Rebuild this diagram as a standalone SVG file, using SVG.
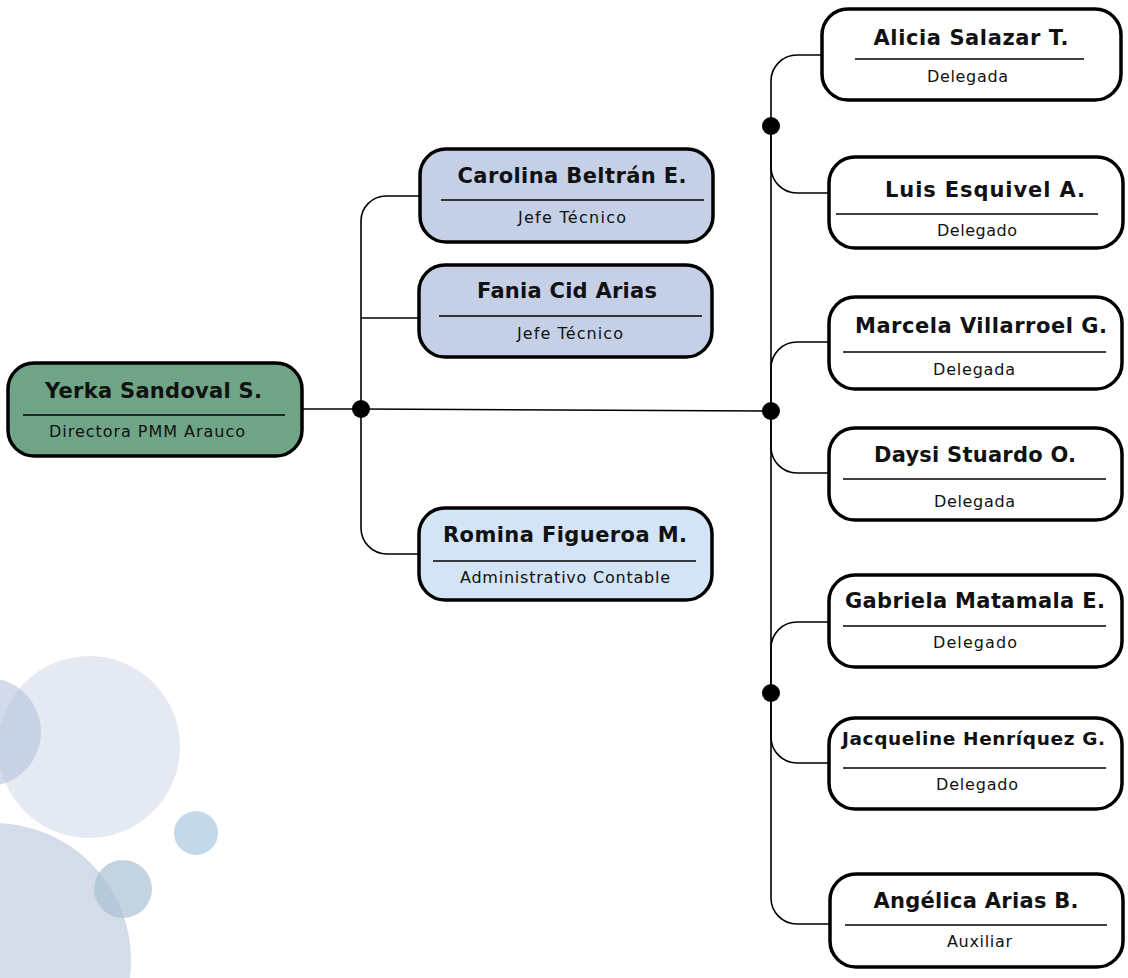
<svg xmlns="http://www.w3.org/2000/svg" width="1128" height="978" viewBox="0 0 1128 978">
<style>
.box{stroke:#000;stroke-width:3.5}
.div{stroke:#000;stroke-width:1.6}
.nm{font-family:"DejaVu Sans","Open Sans",sans-serif;font-weight:700;font-size:21px;fill:#111;text-anchor:middle}
.sb{font-family:"DejaVu Sans","Open Sans",sans-serif;font-size:16px;fill:#111;text-anchor:middle}
.con{fill:none;stroke:#000;stroke-width:1.6}
.dot{fill:#000}
</style>
<rect width="1128" height="978" fill="#fff"/>
<g id="decor">
<circle cx="89" cy="747" r="91" fill="#e5e9f2"/>
<circle cx="-13" cy="732" r="54" fill="#b4c3dc" fill-opacity="0.6"/>
<circle cx="-6" cy="960" r="137" fill="#d4dbe9"/>
<circle cx="196" cy="833" r="22" fill="#c4d8e8"/>
<circle cx="123" cy="889" r="29" fill="#a9c2d3" fill-opacity="0.7"/>
</g>
<g id="connectors">
<path class="con" d="M302,409 H361"/>
<path class="con" d="M361,409 V221 A25 25 0 0 1 386 196 H420"/>
<path class="con" d="M361,318 H419"/>
<path class="con" d="M361,409 V528 A26 26 0 0 0 387 554 H419"/>
<path class="con" d="M361,409 L771,411"/>
<path class="con" d="M771,126 V81 A26 26 0 0 1 797 55 H822"/>
<path class="con" d="M771,126 V167 A26 26 0 0 0 797 193 H829"/>
<path class="con" d="M771,126 V898 A26 26 0 0 0 797 924 H829"/>
<path class="con" d="M771,411 V368 A26 26 0 0 1 797 342 H829"/>
<path class="con" d="M771,411 V447 A26 26 0 0 0 797 473 H829"/>
<path class="con" d="M771,693 V648 A26 26 0 0 1 797 622 H829"/>
<path class="con" d="M771,693 V737 A26 26 0 0 0 797 763 H829"/>
<circle class="dot" cx="361" cy="409" r="9"/>
<circle class="dot" cx="771" cy="411" r="9"/>
<circle class="dot" cx="771" cy="126" r="9"/>
<circle class="dot" cx="771" cy="693" r="9"/>
</g>
<g id="yerka">
<rect class="box" x="8" y="363" width="294" height="93" rx="26" fill="#6fa487"/>
<text class="nm" x="153.5" y="398" textLength="217">Yerka Sandoval S.</text>
<line class="div" x1="23" y1="415" x2="285" y2="415"/>
<text class="sb" x="147" y="437" textLength="196">Directora PMM Arauco</text>
</g>
<g id="carolina">
<rect class="box" x="420" y="149" width="293" height="93" rx="26" fill="#c5d0e6"/>
<text class="nm" x="572" y="183" textLength="229">Carolina Beltrán E.</text>
<line class="div" x1="441" y1="200" x2="704" y2="200"/>
<text class="sb" x="572" y="223" textLength="108">Jefe Técnico</text>
</g>
<g id="fania">
<rect class="box" x="419" y="265" width="293" height="92" rx="26" fill="#c5d0e6"/>
<text class="nm" x="567" y="298" textLength="180">Fania Cid Arias</text>
<line class="div" x1="439" y1="316" x2="702" y2="316"/>
<text class="sb" x="570" y="339" textLength="106">Jefe Técnico</text>
</g>
<g id="romina">
<rect class="box" x="419" y="508" width="293" height="92" rx="26" fill="#d2e4f5"/>
<text class="nm" x="565" y="542" textLength="244">Romina Figueroa M.</text>
<line class="div" x1="433" y1="561" x2="696" y2="561"/>
<text class="sb" x="565" y="583" textLength="210">Administrativo Contable</text>
</g>
<g id="alicia">
<rect class="box" x="822" y="9" width="299" height="91" rx="26" fill="#fff"/>
<text class="nm" x="971" y="45" textLength="195">Alicia Salazar T.</text>
<line class="div" x1="855" y1="59" x2="1084" y2="59"/>
<text class="sb" x="967.5" y="82" textLength="81">Delegada</text>
</g>
<g id="luis">
<rect class="box" x="829" y="157" width="294" height="91" rx="26" fill="#fff"/>
<text class="nm" x="985" y="197" textLength="200">Luis Esquivel A.</text>
<line class="div" x1="836" y1="214" x2="1098" y2="214"/>
<text class="sb" x="977" y="236" textLength="80">Delegado</text>
</g>
<g id="marcela">
<rect class="box" x="829" y="297" width="293" height="92" rx="26" fill="#fff"/>
<text class="nm" x="981" y="333" textLength="252">Marcela Villarroel G.</text>
<line class="div" x1="843" y1="352" x2="1106" y2="352"/>
<text class="sb" x="974" y="375" textLength="82">Delegada</text>
</g>
<g id="daysi">
<rect class="box" x="829" y="428" width="293" height="92" rx="26" fill="#fff"/>
<text class="nm" x="975" y="462" textLength="202">Daysi Stuardo O.</text>
<line class="div" x1="843" y1="479" x2="1106" y2="479"/>
<text class="sb" x="974.5" y="507" textLength="81">Delegada</text>
</g>
<g id="gabriela">
<rect class="box" x="829" y="575" width="293" height="92" rx="26" fill="#fff"/>
<text class="nm" x="975" y="608" textLength="260">Gabriela Matamala E.</text>
<line class="div" x1="843" y1="626" x2="1106" y2="626"/>
<text class="sb" x="975" y="648" textLength="84">Delegado</text>
</g>
<g id="jacqueline">
<rect class="box" x="829" y="718" width="293" height="91" rx="26" fill="#fff"/>
<text class="nm" x="973.5" y="745" textLength="263" style="font-size:18.5px">Jacqueline Henríquez G.</text>
<line class="div" x1="843" y1="768" x2="1106" y2="768"/>
<text class="sb" x="977" y="790" textLength="82">Delegado</text>
</g>
<g id="angelica">
<rect class="box" x="830" y="874" width="293" height="93" rx="26" fill="#fff"/>
<text class="nm" x="976" y="908" textLength="205">Angélica Arias B.</text>
<line class="div" x1="845" y1="925" x2="1107" y2="925"/>
<text class="sb" x="979.5" y="947" textLength="65">Auxiliar</text>
</g>
</svg>
